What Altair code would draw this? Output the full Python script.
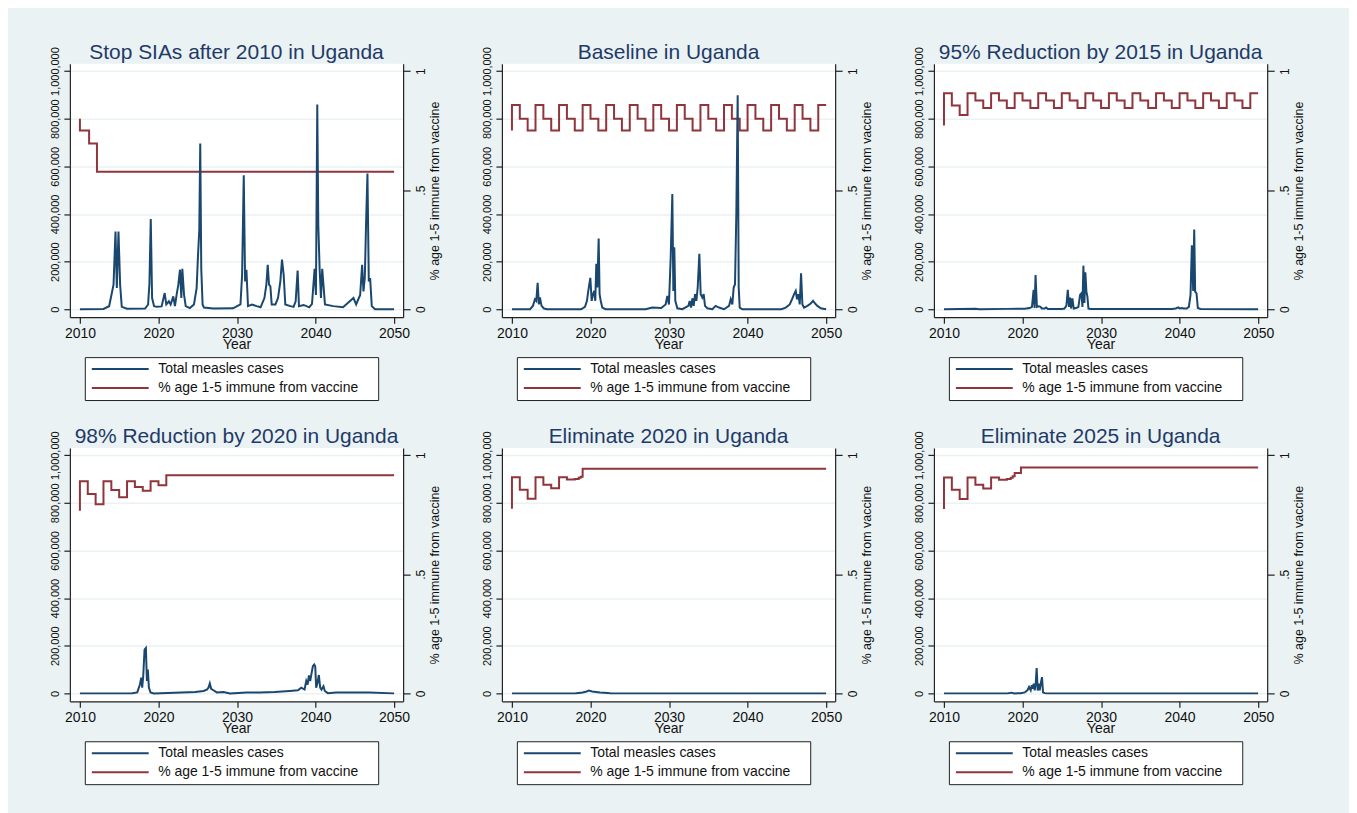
import altair as alt
import pandas as pd

FONT = "Liberation Sans"
BLUE = "#1a476f"
RED = "#90353b"
BG = "#eaf2f3"
TITLE_COLOR = "#1f3a68"

# legend entries; a trailing blank braille cell widens the legend box like the original
TAIL = "\u00a0\u2800"
series_names = ["Total measles cases" + TAIL, "% age 1-5 immune from vaccine" + TAIL]
right_axis_title = "% age 1-5 immune from vaccine"

titles = [
    "Stop SIAs after 2010 in Uganda",
    "Baseline in Uganda",
    "95% Reduction by 2015 in Uganda",
    "98% Reduction by 2020 in Uganda",
    "Eliminate 2020 in Uganda",
    "Eliminate 2025 in Uganda",
]

x_ticks = [2010, 2020, 2030, 2040, 2050]
case_ticks = [0, 200000, 400000, 600000, 800000, 1000000]
imm_ticks = [0, 0.5, 1]

# ---- Total measles cases (year, cases) ----
p1_cases = [
    (2010.0, 0), (2013.0, 1000), (2013.72, 12600), (2014.28, 103000), (2014.53, 326000),
    (2014.70, 89000), (2014.91, 326000), (2015.12, 103000), (2015.33, 10000), (2016.0, 2000),
    (2018.3, 3000), (2018.68, 20000), (2018.85, 107000), (2019.02, 379000), (2019.19, 47000),
    (2019.44, 13000), (2019.8, 10000), (2020.4, 12000), (2020.79, 68000), (2021.0, 20000),
    (2021.33, 33000), (2021.55, 20000), (2021.89, 54000), (2022.1, 13000), (2022.31, 60000),
    (2022.53, 103000), (2022.74, 166000), (2022.91, 47000), (2023.04, 170000), (2023.26, 60000),
    (2023.47, 13000), (2024.0, 5000), (2024.52, 20000), (2024.86, 89000), (2025.03, 222000),
    (2025.20, 333000), (2025.32, 696000), (2025.45, 170000), (2025.62, 20000), (2025.79, 7000),
    (2027.0, 3000), (2029.5, 4000), (2030.44, 20000), (2030.65, 145000), (2030.86, 563000),
    (2031.03, 117000), (2031.2, 166000), (2031.4, 13000), (2031.9, 20000), (2032.5, 13000),
    (2033.0, 8000), (2033.49, 47000), (2033.74, 103000), (2033.91, 187000), (2034.08, 103000),
    (2034.25, 96000), (2034.42, 20000), (2034.89, 20000), (2035.22, 47000), (2035.52, 117000),
    (2035.73, 208000), (2035.94, 145000), (2036.15, 20000), (2036.79, 13000), (2037.2, 10000),
    (2037.47, 33000), (2037.72, 162000), (2037.89, 13000), (2038.48, 18000), (2039.2, 8000),
    (2039.55, 23000), (2039.88, 170000), (2040.05, 60000), (2040.22, 860000), (2040.35, 354000),
    (2040.52, 170000), (2040.69, 47000), (2040.85, 170000), (2041.2, 20000), (2042.26, 13000),
    (2043.5, 8000), (2044.83, 47000), (2045.17, 20000), (2045.68, 60000), (2045.93, 187000),
    (2046.1, 75000), (2046.27, 131000), (2046.44, 368000), (2046.61, 570000), (2046.78, 117000),
    (2046.95, 131000), (2047.16, 13000), (2047.58, 0), (2050.0, 0),
]
p2_cases = [
    (2010.0, 0), (2012.3, 0), (2012.67, 14000), (2012.93, 42000), (2013.1, 35000),
    (2013.27, 111000), (2013.43, 20000), (2013.56, 50000), (2013.77, 14000), (2014.07, 3000),
    (2014.5, 0), (2018.8, 0), (2019.3, 10000), (2019.55, 35000), (2019.72, 77000),
    (2019.98, 132000), (2020.15, 35000), (2020.32, 63000), (2020.49, 77000), (2020.61, 35000),
    (2020.74, 191000), (2020.87, 91000), (2021.04, 297000), (2021.16, 63000), (2021.29, 38000),
    (2021.5, 7000), (2021.93, 0), (2027.0, 0), (2027.87, 7000), (2029.0, 5000),
    (2029.57, 20000), (2029.78, 56000), (2029.99, 20000), (2030.21, 216000), (2030.42, 484000),
    (2030.55, 77000), (2030.67, 260000), (2030.8, 35000), (2031.06, 4000), (2031.7, 0),
    (2032.46, 14000), (2032.63, 35000), (2032.8, 7000), (2032.97, 46000), (2033.14, 14000),
    (2033.31, 63000), (2033.48, 35000), (2033.65, 91000), (2033.86, 233000), (2034.03, 63000),
    (2034.24, 49000), (2034.41, 63000), (2034.58, 14000), (2034.88, 4000), (2035.51, 0),
    (2035.94, 14000), (2036.36, 7000), (2037.0, 0), (2037.64, 14000), (2037.85, 42000),
    (2038.06, 20000), (2038.23, 91000), (2038.4, 105000), (2038.57, 404000), (2038.74, 898000),
    (2038.87, 91000), (2039.0, 7000), (2039.34, 0), (2044.3, 0), (2044.86, 7000),
    (2045.37, 20000), (2045.71, 46000), (2045.92, 63000), (2046.13, 77000), (2046.3, 42000),
    (2046.47, 63000), (2046.64, 20000), (2046.81, 151000), (2046.98, 20000), (2047.19, 7000),
    (2047.62, 14000), (2048.04, 24000), (2048.34, 35000), (2048.6, 24000), (2048.89, 14000),
    (2049.32, 4000), (2050.0, 0),
]
p3_cases = [
    (2010.0, 0), (2014.0, 2000), (2014.5, 0), (2018.0, 1500), (2020.27, 2000),
    (2020.9, 5000), (2021.2, 10000), (2021.41, 81000), (2021.53, 5000), (2021.66, 144000),
    (2021.83, 10000), (2022.04, 12000), (2022.29, 10000), (2022.46, 3000), (2022.8, 3000),
    (2023.01, 7000), (2023.22, 1000), (2025.0, 1000), (2025.34, 3000), (2025.59, 15000),
    (2025.76, 81000), (2025.93, 10000), (2026.06, 49000), (2026.18, 3000), (2026.35, 46000),
    (2026.52, 3000), (2026.82, 5000), (2027.11, 9000), (2027.33, 60000), (2027.5, 67000),
    (2027.63, 10000), (2027.75, 183000), (2027.88, 26000), (2028.0, 155000), (2028.13, 74000),
    (2028.26, 53000), (2028.39, 3000), (2028.6, 1000), (2039.0, 1000), (2039.49, 3000),
    (2039.83, 8000), (2040.04, 3000), (2040.25, 5000), (2040.55, 3000), (2040.89, 3000),
    (2041.18, 10000), (2041.39, 60000), (2041.56, 269000), (2041.73, 77000), (2041.86, 335000),
    (2041.98, 74000), (2042.15, 67000), (2042.32, 5000), (2042.66, 1000), (2050.0, 0),
]
p4_cases = [
    (2010.0, 0), (2016.67, 1000), (2017.3, 4000), (2017.64, 37000), (2017.81, 66000),
    (2017.93, 24000), (2018.06, 72000), (2018.23, 184000), (2018.4, 191000), (2018.53, 52000),
    (2018.65, 100000), (2018.78, 24000), (2018.99, 4000), (2019.41, 0), (2024.68, 6000),
    (2025.74, 10000), (2026.16, 16000), (2026.37, 24000), (2026.54, 42000), (2026.71, 19000),
    (2027.0, 13000), (2027.43, 4000), (2028.27, 6000), (2029.11, 0), (2031.22, 4000),
    (2032.91, 4000), (2034.8, 6000), (2036.7, 10000), (2037.76, 13000), (2038.18, 24000),
    (2038.6, 16000), (2038.82, 52000), (2038.99, 37000), (2039.16, 75000), (2039.32, 52000),
    (2039.49, 84000), (2039.66, 114000), (2039.83, 121000), (2039.96, 114000), (2040.08, 24000),
    (2040.25, 44000), (2040.42, 77000), (2040.59, 24000), (2040.76, 16000), (2041.01, 30000),
    (2041.18, 10000), (2041.56, 1000), (2042.61, 4000), (2046.84, 4000), (2050.0, 0),
]
p5_cases = [
    (2010.0, 0), (2018.0, 0), (2018.5, 2000), (2019.0, 4000), (2019.5, 8000),
    (2019.8, 12000), (2020.2, 8000), (2020.7, 6000), (2021.2, 4000), (2021.7, 3000),
    (2022.2, 2000), (2022.6, 0), (2050.0, 0),
]
p6_cases = [
    (2010.0, 0), (2018.07, 0), (2018.62, 3000), (2018.92, 0), (2019.77, 1000),
    (2020.28, 4000), (2020.62, 13000), (2020.83, 27000), (2021.04, 13000), (2021.17, 34000),
    (2021.3, 20000), (2021.42, 41000), (2021.55, 13000), (2021.68, 41000), (2021.8, 106000),
    (2021.93, 12000), (2022.06, 41000), (2022.19, 13000), (2022.36, 48000), (2022.48, 68000),
    (2022.61, 4000), (2022.82, 1000), (2023.16, 0), (2050.0, 0),
]

# ---- % age 1-5 immune from vaccine (year, share), step-after ----
p1_imm = [(2010.0, 0.80), (2010.0, 0.75), (2011.17, 0.696), (2012.17, 0.577), (2050.0, 0.577)]
p2_imm = [
    (2010, 0.75), (2010, 0.858), (2011, 0.80), (2012, 0.75), (2013, 0.858), (2014, 0.80),
    (2015, 0.75), (2016, 0.858), (2017, 0.80), (2018, 0.75), (2019, 0.858), (2020, 0.80),
    (2021, 0.75), (2022, 0.858), (2023, 0.80), (2024, 0.75), (2025, 0.858), (2026, 0.80),
    (2027, 0.75), (2028, 0.858), (2029, 0.80), (2030, 0.75), (2031, 0.858), (2032, 0.80),
    (2033, 0.75), (2034, 0.858), (2035, 0.80), (2036, 0.75), (2037, 0.858), (2038, 0.80),
    (2039, 0.75), (2040, 0.858), (2041, 0.80), (2042, 0.75), (2043, 0.858), (2044, 0.80),
    (2045, 0.75), (2046, 0.858), (2047, 0.80), (2048, 0.75), (2049, 0.858), (2050, 0.858),
]
p3_imm = [
    (2010, 0.771), (2010, 0.907), (2011, 0.855), (2012, 0.816), (2013, 0.907), (2014, 0.876),
    (2015, 0.845), (2016, 0.907), (2017, 0.876), (2018, 0.845), (2019, 0.907), (2020, 0.876),
    (2021, 0.845), (2022, 0.907), (2023, 0.876), (2024, 0.845), (2025, 0.907), (2026, 0.876),
    (2027, 0.845), (2028, 0.907), (2029, 0.876), (2030, 0.845), (2031, 0.907), (2032, 0.876),
    (2033, 0.845), (2034, 0.907), (2035, 0.876), (2036, 0.845), (2037, 0.907), (2038, 0.876),
    (2039, 0.845), (2040, 0.907), (2041, 0.876), (2042, 0.845), (2043, 0.907), (2044, 0.876),
    (2045, 0.845), (2046, 0.907), (2047, 0.876), (2048, 0.845), (2049, 0.907), (2050, 0.907),
]
p4_imm = [
    (2010, 0.767), (2010, 0.891), (2011, 0.837), (2012, 0.794), (2013, 0.891), (2014, 0.854),
    (2015, 0.823), (2016, 0.891), (2017, 0.867), (2018, 0.851), (2019, 0.891), (2020, 0.874),
    (2021, 0.916), (2050, 0.916),
]
p5_imm = [
    (2010, 0.775), (2010, 0.907), (2011, 0.855), (2012, 0.817), (2013, 0.907), (2014, 0.876),
    (2015, 0.861), (2016, 0.907), (2017, 0.898), (2018, 0.900), (2018.5, 0.905),
    (2018.75, 0.910), (2019, 0.943), (2050, 0.943),
]
p6_imm = [
    (2010, 0.774), (2010, 0.906), (2011, 0.855), (2012, 0.816), (2013, 0.906), (2014, 0.876),
    (2015, 0.860), (2016, 0.906), (2017, 0.897), (2018, 0.900), (2018.5, 0.905),
    (2018.75, 0.912), (2019, 0.925), (2019.8, 0.948), (2050, 0.948),
]

all_cases = [p1_cases, p2_cases, p3_cases, p4_cases, p5_cases, p6_cases]
all_imm = [p1_imm, p2_imm, p3_imm, p4_imm, p5_imm, p6_imm]

PLOT_W, PLOT_H = 334, 254
X_DOMAIN = [2008.72, 2051.15]
CASE_DOMAIN = [-33500, 1030600]
IMM_DOMAIN = [-0.0335, 1.0306]


def panel(title, cases, imm):
    dfc = pd.DataFrame(cases, columns=["year", "cases"])
    dfc["series"] = series_names[0]
    dfi = pd.DataFrame(imm, columns=["year", "share"])
    dfi["series"] = series_names[1]

    x = alt.X(
        "year:Q",
        scale=alt.Scale(domain=X_DOMAIN, nice=False, zero=False),
        axis=alt.Axis(
            values=x_ticks, format="d", title="Year", grid=False,
            labelFontSize=14, tickSize=6, labelPadding=3,
            titleFontSize=14, titleY=31, titleBaseline="alphabetic",
        ),
    )
    color = alt.Color(
        "series:N",
        scale=alt.Scale(domain=series_names, range=[BLUE, RED]),
        legend=alt.Legend(
            title=None, orient="none", legendX=15, legendY=294, direction="vertical",
        ),
    )
    red = alt.Chart(dfi).mark_line(interpolate="step-after", strokeWidth=2).encode(
        x=x,
        y=alt.Y(
            "share:Q",
            scale=alt.Scale(domain=IMM_DOMAIN, nice=False, zero=False),
            axis=alt.Axis(
                orient="right", values=imm_ticks, grid=False,
                labelExpr="datum.value == 0.5 ? '.5' : format(datum.value, 'd')",
                labelAngle=270, labelAlign="center", labelBaseline="top",
                labelFontSize=12, labelPadding=5, tickSize=7,
                title=right_axis_title, titleFontSize=12.5, titleAngle=270,
                titleBaseline="top", titleAlign="center", titleX=25, titleY=PLOT_H / 2,
            ),
        ),
        color=color,
    )
    blue = alt.Chart(dfc).mark_line(strokeWidth=2).encode(
        x=x,
        y=alt.Y(
            "cases:Q",
            scale=alt.Scale(domain=CASE_DOMAIN, nice=False, zero=False),
            axis=alt.Axis(
                orient="left", values=case_ticks, grid=True,
                labelExpr="format(datum.value, ',')",
                gridColor=BG, gridWidth=1.5,
                labelAngle=270, labelAlign="center", labelBaseline="bottom",
                labelFontSize=11, labelPadding=3, tickSize=6, title=None,
            ),
        ),
        color=color,
    )
    return (
        alt.layer(red, blue)
        .resolve_scale(y="independent")
        .properties(
            width=PLOT_W, height=PLOT_H,
            title=alt.TitleParams(
                title, font=FONT, fontSize=21, fontWeight="normal", color=TITLE_COLOR,
                anchor="middle", frame="group", baseline="alphabetic", offset=-33,
            ),
        )
    )


panels = [panel(t, c, i) for t, c, i in zip(titles, all_cases, all_imm)]

chart = (
    alt.concat(*panels, columns=3, spacing={"row": 131, "column": 99}, bounds="flush")
    .resolve_scale(color="independent")
    .resolve_legend(color="independent")
    .properties(
        background=BG,
        padding={"left": 41, "top": 32, "right": 44, "bottom": 30},
    )
    .configure_view(strokeWidth=0, fill="white")
    .configure_axis(
        labelFont=FONT, titleFont=FONT, labelColor="#111111", titleColor="#111111",
        titleFontWeight="normal", domainColor="#222222", tickColor="#222222",
        domainWidth=1.2, tickWidth=1.2,
    )
    .configure_legend(
        labelFont=FONT, labelFontSize=14, labelColor="#111111", labelLimit=450,
        symbolType="M-5.7,0H5.7", symbolSize=100, symbolStrokeWidth=2,
        symbolOffset=23.5, labelOffset=31, padding=5, rowPadding=5,
        strokeColor="#222222", fillColor="white", cornerRadius=0,
    )
)

chart.save("out.html", embed_options={"renderer": "svg", "actions": False})
